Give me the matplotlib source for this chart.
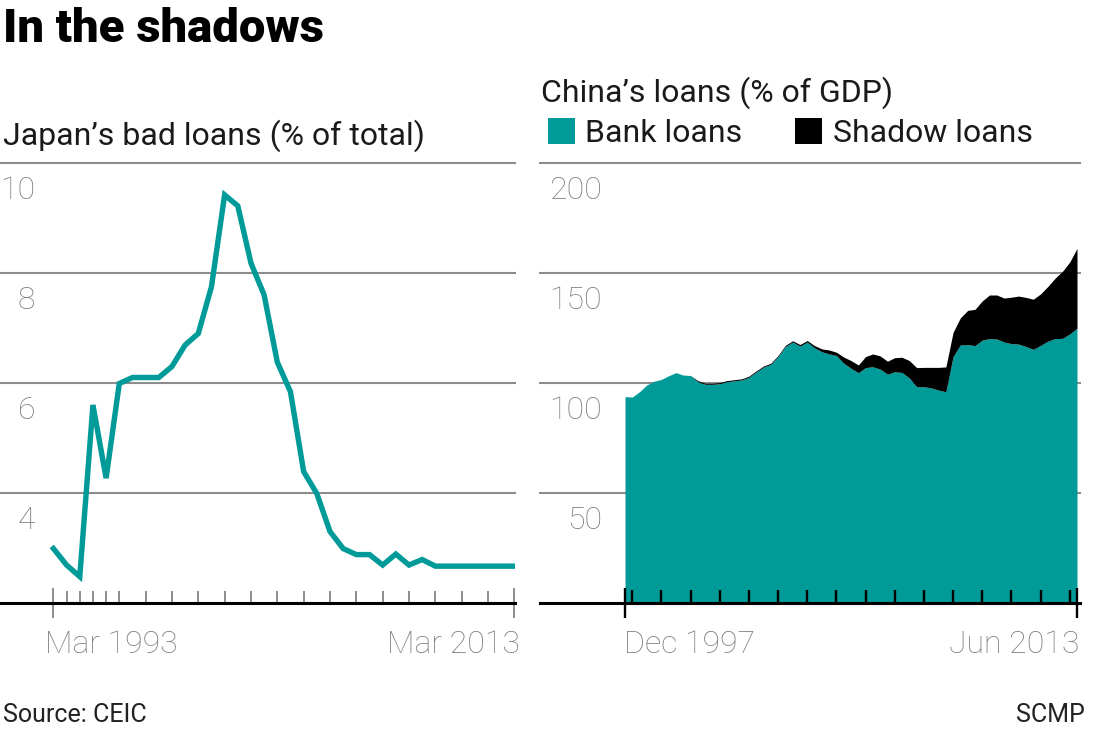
import pandas as pd
import numpy as np
import matplotlib
matplotlib.use('Agg')
import matplotlib.pyplot as plt
import matplotlib.dates as mdates
from matplotlib.transforms import blended_transform_factory, offset_copy

plt.rcParams['font.family'] = ['Roboto', 'DejaVu Sans']

# Japan's bad loans (% of total), Mar 1993 .. Mar 2013
japan_bad = [2.99, 2.69, 2.48, 5.60, 4.27, 5.99, 6.10, 6.10, 6.10, 6.30,
             6.69, 6.90, 7.75, 9.42, 9.22, 8.18, 7.60, 6.38, 5.84, 4.39,
             3.99, 3.30, 2.99, 2.88, 2.88, 2.69, 2.89, 2.69, 2.79, 2.67,
             2.67, 2.67, 2.67, 2.67, 2.67, 2.67]
japan_yticks = [4, 6, 8, 10]
japan_xlabels = ['Mar 1993', 'Mar 2013']

# China's loans (% of GDP), quarterly Dec 1997 .. Jun 2013
quarters = pd.date_range('1997-12-31', '2013-06-30', freq='QE')
bank = [93.8, 93.6, 96.0, 99.1, 100.8, 101.6, 103.3, 104.7, 103.6, 103.4,
        100.6, 99.4, 99.4, 99.7, 100.6, 101.0, 101.4, 102.6, 105.0, 107.2,
        108.5, 112.0, 116.6, 118.6, 116.8, 118.6, 116.0, 114.2, 113.2, 112.5,
        109.0, 106.7, 104.7, 107.0, 107.4, 106.3, 104.0, 105.1, 104.8, 102.3,
        98.3, 98.3, 97.8, 96.8, 96.0, 112.0, 117.3, 117.5, 117.0, 119.5,
        120.2, 120.0, 118.6, 117.9, 117.7, 116.6, 115.3, 117.1, 119.0, 120.2,
        120.3, 122.3, 124.9]
shadow = [0, 0, 0, 0, 0, 0, 0, 0, 0, 0,
          0.5, 0.5, 0.5, 0.5, 0.5, 0.5, 0.5, 0.5, 0.5, 0.5,
          0.5, 0.5, 0.5, 0.6, 0.7, 0.7, 1.0, 1.3, 1.8, 1.5,
          2.8, 3.5, 3.5, 5.0, 5.8, 6.0, 5.9, 6.4, 6.9, 7.9,
          8.7, 8.8, 9.3, 10.3, 11.3, 11.0, 12.3, 15.5, 16.5, 17.8,
          19.8, 20.0, 20.0, 21.1, 21.8, 22.3, 22.8, 23.4, 24.9, 27.5,
          30.5, 32.7, 36.3]
china_yticks = [50, 100, 150, 200]
china_xlabels = ['Dec 1997', 'Jun 2013']

TEAL = '#009b98'
GRID = '#8c8c8c'
LABEL = '#7d7d7d'
DARK = '#1a1a1a'

W, H = 1098, 732
fig = plt.figure(figsize=(W / 100, H / 100), dpi=100)


def box(x0, y0, x1, y1):
    return [x0 / W, 1 - y1 / H, (x1 - x0) / W, (y1 - y0) / H]


def ftext(x, y, s, **kw):
    fig.text(x / W, 1 - y / H, s, **kw)


ax1 = fig.add_axes(box(0, 163, 515, 603))
ax2 = fig.add_axes(box(540, 163, 1080, 603))

# --- left: Japan line
xi = np.arange(len(japan_bad))
ax1.plot(xi, japan_bad, color=TEAL, lw=3.9, solid_joinstyle='miter', zorder=3)
step = (515 - 53.5) / (len(japan_bad) - 1)
ax1.set_xlim(-53.5 / step, len(japan_bad) - 1 + 0.05)
ax1.set_ylim(2, 10)

# --- right: China stacked area
bank_a = np.array(bank)
total = bank_a + np.array(shadow)
ax2.fill_between(quarters, 0, bank_a, color=TEAL, lw=0, label='Bank loans', zorder=1)
ax2.fill_between(quarters, bank_a, total, color='black', lw=0, label='Shadow loans', zorder=1)
d0 = mdates.date2num(quarters[0])
d1 = mdates.date2num(quarters[-1])
dpp = (d1 - d0) / 452.0
ax2.set_xlim(d0 - 85 * dpp, d1 + 3 * dpp)
ax2.set_ylim(0, 200)

for ax, yt in ((ax1, japan_yticks), (ax2, china_yticks)):
    # gridlines behind the data, ticks stay on top
    for v in yt:
        ax.axhline(v, color=GRID, lw=1.5, zorder=0.5, clip_on=False)
    ax.set_yticks(yt)
    ax.tick_params(axis='y', length=0, labelleft=False)
    for s in ('top', 'right', 'left'):
        ax.spines[s].set_visible(False)
    ax.spines['bottom'].set_linewidth(2.2)
    ax.spines['bottom'].set_color('black')

# x ticks, left panel
ax1.set_xticks([0, len(japan_bad) - 1])
ax1.set_xticks(list(range(1, 6)) + list(range(7, len(japan_bad) - 1, 2)), minor=True)
ax1.tick_params(axis='x', which='minor', direction='in', length=9, width=1.4, color=GRID)
ax1.tick_params(axis='x', which='major', direction='inout', length=21, width=1.4,
                color=GRID, labelbottom=False)

# x ticks, right panel
ax2.set_xticks([quarters[0], quarters[-1]])
ax2.set_xticks(pd.date_range('1998-03-31', '2013-03-31', freq='12ME'), minor=True)
ax2.tick_params(axis='x', which='minor', direction='in', length=9.5, width=1.7, color='black')
ax2.tick_params(axis='x', which='major', direction='inout', length=22, width=1.7,
                color='black', labelbottom=False)

# y labels sit under their gridlines
for ax, yt, xa in ((ax1, japan_yticks, 35 / 515), (ax2, china_yticks, 62 / 540)):
    tr = offset_copy(blended_transform_factory(ax.transAxes, ax.transData),
                     fig=fig, y=-36, units='dots')
    for v in yt:
        ax.text(xa, v, str(v), transform=tr, ha='right', va='baseline',
                fontsize=23, color=LABEL, fontweight='light')

# x labels
tick_kw = dict(fontsize=23, color=LABEL, fontweight='light', va='baseline')
ftext(45, 653, japan_xlabels[0], ha='left', **tick_kw)
ftext(520, 653, japan_xlabels[1], ha='right', **tick_kw)
ftext(624, 653, china_xlabels[0], ha='left', **tick_kw)
ftext(1079, 653, china_xlabels[1], ha='right', **tick_kw)

# headings
ftext(3, 42, 'In the shadows', fontsize=34, fontweight='black', color='black', va='baseline')
ftext(3, 145, 'Japan’s bad loans (% of total)', fontsize=23, color=DARK, va='baseline')
ftext(541, 102, 'China’s loans (% of GDP)', fontsize=23, color=DARK, va='baseline')
ax2.legend(loc='center left', bbox_to_anchor=(548 / W, 1 - 133 / H),
           bbox_transform=fig.transFigure, ncol=2, frameon=False, fontsize=23,
           handlelength=0.85, handleheight=0.9, handletextpad=0.32,
           columnspacing=1.65, borderpad=0, borderaxespad=0, labelcolor=DARK)

ftext(3, 722, 'Source: CEIC', fontsize=18, color='#222222', va='baseline')
ftext(1085, 722, 'SCMP', fontsize=18, color='#222222', va='baseline', ha='right')

fig.savefig('out.png', dpi=100)
